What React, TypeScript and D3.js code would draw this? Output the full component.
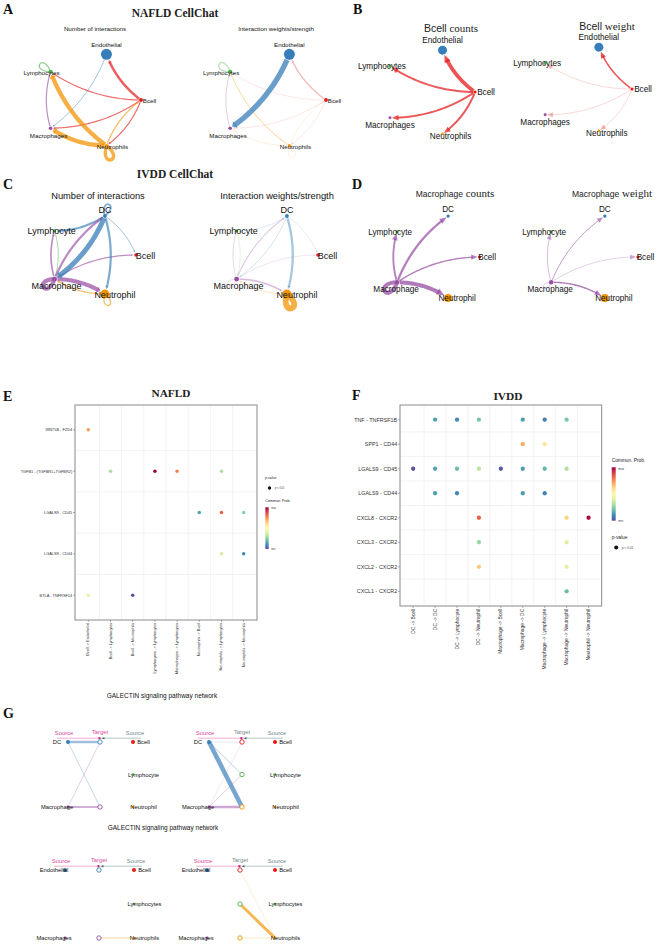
import { useEffect } from "react";
import * as d3 from "d3";

const WIDTH = 660;
const HEIGHT = 945;
const SANS = "'Liberation Sans', Arial, Helvetica, sans-serif";
const SERIF = "'Liberation Serif', 'Times New Roman', serif";

type Edge = [string, string, number];
type Dot = [string, string, number];
type Nudge = Record<string, [number, number]>;

// ---- cell groups -------------------------------------------------------
const NAFLD_CELLS = ["Bcell", "Endothelial", "Lymphocytes", "Macrophages", "Neutrophils"];
const IVDD_CELLS = ["Bcell", "DC", "Lymphocyte", "Macrophage", "Neutrophil"];
const CELL_COLORS = ["#E41A1C", "#377EB8", "#4DAF4A", "#984EA3", "#F29403"];

// relative group sizes (vertex weights)
const NAFLD_SIZES = [1.2, 10, 1.4, 1.1, 0.8];
const IVDD_SIZES = [0.8, 0.9, 0.7, 1.5, 5];

// ---- aggregated networks: [source, target, value] ----------------------
const NAFLD_COUNT: Edge[] = [
  ["Bcell", "Endothelial", 5],
  ["Bcell", "Lymphocytes", 2],
  ["Bcell", "Macrophages", 2],
  ["Bcell", "Neutrophils", 2],
  ["Endothelial", "Macrophages", 1],
  ["Lymphocytes", "Lymphocytes", 2],
  ["Macrophages", "Lymphocytes", 2],
  ["Neutrophils", "Lymphocytes", 9],
  ["Neutrophils", "Macrophages", 9],
  ["Neutrophils", "Neutrophils", 7],
  ["Neutrophils", "Bcell", 2],
];

const NAFLD_WEIGHT: Edge[] = [
  ["Endothelial", "Macrophages", 0.9],
  ["Bcell", "Endothelial", 0.15],
  ["Lymphocytes", "Lymphocytes", 0.18],
  ["Macrophages", "Lymphocytes", 0.1],
  ["Neutrophils", "Lymphocytes", 0.12],
  ["Neutrophils", "Bcell", 0.02],
  ["Neutrophils", "Macrophages", 0.03],
  ["Neutrophils", "Neutrophils", 0.02],
  ["Bcell", "Lymphocytes", 0.015],
  ["Bcell", "Macrophages", 0.015],
  ["Bcell", "Neutrophils", 0.015],
];

const IVDD_COUNT: Edge[] = [
  ["DC", "DC", 3],
  ["DC", "Lymphocyte", 4],
  ["DC", "Macrophage", 10],
  ["DC", "Neutrophil", 4],
  ["DC", "Bcell", 1],
  ["Macrophage", "DC", 4],
  ["Macrophage", "Lymphocyte", 3],
  ["Macrophage", "Bcell", 2],
  ["Macrophage", "Macrophage", 8],
  ["Macrophage", "Neutrophil", 8],
  ["Lymphocyte", "Macrophage", 1],
  ["Neutrophil", "Macrophage", 2],
  ["Neutrophil", "Neutrophil", 2],
];

const IVDD_WEIGHT: Edge[] = [
  ["DC", "Neutrophil", 0.35],
  ["Neutrophil", "Neutrophil", 1.0],
  ["Macrophage", "DC", 0.12],
  ["Macrophage", "Neutrophil", 0.22],
  ["Macrophage", "Lymphocyte", 0.07],
  ["Macrophage", "Bcell", 0.03],
  ["Macrophage", "Macrophage", 0.05],
  ["DC", "Lymphocyte", 0.04],
  ["DC", "Bcell", 0.03],
  ["DC", "Macrophage", 0.06],
  ["Lymphocyte", "Macrophage", 0.04],
  ["Neutrophil", "Macrophage", 0.08],
];

// ---- bubble plots ------------------------------------------------------
const E_PAIRS = ["WNT5B - FZD4", "TGFB1 - (TGFBR1+TGFBR2)", "LGALS9 - CD45", "LGALS9 - CD44", "BTLA - TNFRSF14"];
const E_LINKS = [
  "Bcell -> Endothelial",
  "Bcell -> Lymphocytes",
  "Bcell -> Neutrophils",
  "Lymphocytes -> Lymphocytes",
  "Macrophages -> Lymphocytes",
  "Neutrophils -> Bcell",
  "Neutrophils -> Lymphocytes",
  "Neutrophils -> Neutrophils",
];
const E_PROB: Dot[] = [
  ["WNT5B - FZD4", "Bcell -> Endothelial", 0.73],
  ["TGFB1 - (TGFBR1+TGFBR2)", "Bcell -> Lymphocytes", 0.3],
  ["TGFB1 - (TGFBR1+TGFBR2)", "Lymphocytes -> Lymphocytes", 1.0],
  ["TGFB1 - (TGFBR1+TGFBR2)", "Macrophages -> Lymphocytes", 0.77],
  ["TGFB1 - (TGFBR1+TGFBR2)", "Neutrophils -> Lymphocytes", 0.31],
  ["LGALS9 - CD45", "Neutrophils -> Bcell", 0.15],
  ["LGALS9 - CD45", "Neutrophils -> Lymphocytes", 0.83],
  ["LGALS9 - CD45", "Neutrophils -> Neutrophils", 0.25],
  ["LGALS9 - CD44", "Neutrophils -> Lymphocytes", 0.38],
  ["LGALS9 - CD44", "Neutrophils -> Neutrophils", 0.1],
  ["BTLA - TNFRSF14", "Bcell -> Endothelial", 0.41],
  ["BTLA - TNFRSF14", "Bcell -> Neutrophils", 0.0],
];

const F_PAIRS = [
  "TNF - TNFRSF1B",
  "SPP1 - CD44",
  "LGALS9 - CD45",
  "LGALS9 - CD44",
  "CXCL8 - CXCR2",
  "CXCL3 - CXCR2",
  "CXCL2 - CXCR2",
  "CXCL1 - CXCR2",
];
const F_LINKS = [
  "DC -> Bcell",
  "DC -> DC",
  "DC -> Lymphocyte",
  "DC -> Neutrophil",
  "Macrophage -> Bcell",
  "Macrophage -> DC",
  "Macrophage -> Lymphocyte",
  "Macrophage -> Neutrophil",
  "Neutrophil -> Neutrophil",
];
const F_PROB: Dot[] = [
  ["TNF - TNFRSF1B", "DC -> DC", 0.15],
  ["TNF - TNFRSF1B", "DC -> Lymphocyte", 0.1],
  ["TNF - TNFRSF1B", "DC -> Neutrophil", 0.22],
  ["TNF - TNFRSF1B", "Macrophage -> DC", 0.14],
  ["TNF - TNFRSF1B", "Macrophage -> Lymphocyte", 0.08],
  ["TNF - TNFRSF1B", "Macrophage -> Neutrophil", 0.23],
  ["SPP1 - CD44", "Macrophage -> DC", 0.7],
  ["SPP1 - CD44", "Macrophage -> Lymphocyte", 0.58],
  ["LGALS9 - CD45", "DC -> Bcell", 0.0],
  ["LGALS9 - CD45", "DC -> DC", 0.15],
  ["LGALS9 - CD45", "DC -> Lymphocyte", 0.2],
  ["LGALS9 - CD45", "DC -> Neutrophil", 0.33],
  ["LGALS9 - CD45", "Macrophage -> Bcell", 0.02],
  ["LGALS9 - CD45", "Macrophage -> DC", 0.14],
  ["LGALS9 - CD45", "Macrophage -> Lymphocyte", 0.19],
  ["LGALS9 - CD45", "Macrophage -> Neutrophil", 0.31],
  ["LGALS9 - CD44", "DC -> DC", 0.15],
  ["LGALS9 - CD44", "DC -> Lymphocyte", 0.1],
  ["LGALS9 - CD44", "Macrophage -> DC", 0.14],
  ["LGALS9 - CD44", "Macrophage -> Lymphocyte", 0.09],
  ["CXCL8 - CXCR2", "DC -> Neutrophil", 0.83],
  ["CXCL8 - CXCR2", "Macrophage -> Neutrophil", 0.62],
  ["CXCL8 - CXCR2", "Neutrophil -> Neutrophil", 0.98],
  ["CXCL3 - CXCR2", "DC -> Neutrophil", 0.28],
  ["CXCL3 - CXCR2", "Macrophage -> Neutrophil", 0.39],
  ["CXCL2 - CXCR2", "DC -> Neutrophil", 0.65],
  ["CXCL2 - CXCR2", "Macrophage -> Neutrophil", 0.4],
  ["CXCL1 - CXCR2", "Macrophage -> Neutrophil", 0.2],
];

// ---- GALECTIN hierarchy ------------------------------------------------
const IVDD_HIER_SOURCES = ["DC", "Macrophage"];
const IVDD_HIER_OTHERS = ["Bcell", "Lymphocyte", "Neutrophil"];
const IVDD_GALECTIN: Edge[] = [
  ["DC", "DC", 0.5],
  ["DC", "Macrophage", 0.12],
  ["Macrophage", "DC", 0.1],
  ["Macrophage", "Macrophage", 0.4],
  ["DC", "Bcell", 0.04],
  ["DC", "Lymphocyte", 0.15],
  ["DC", "Neutrophil", 1.0],
  ["Macrophage", "Bcell", 0.02],
  ["Macrophage", "Lymphocyte", 0.12],
  ["Macrophage", "Neutrophil", 0.5],
];

const NAFLD_HIER_SOURCES = ["Endothelial", "Macrophages"];
const NAFLD_HIER_OTHERS = ["Bcell", "Lymphocytes", "Neutrophils"];
const NAFLD_GALECTIN: Edge[] = [
  ["Neutrophils", "Macrophages", 0.2],
  ["Neutrophils", "Bcell", 0.03],
  ["Neutrophils", "Lymphocytes", 0.7],
  ["Neutrophils", "Neutrophils", 0.08],
];

// ---------------------------------------------------------------------------

interface ArrowCfg {
  base: number;
  k: number;
  gap: number;
}

interface CircleProps {
  cx: number;
  cy: number;
  rx: number;
  ry: number;
  cells: string[];
  sizes: number[];
  edges: Edge[];
  focus?: string;
  rMax: number;
  wMin: number;
  wMax: number;
  oMin: number;
  arrow: ArrowCfg;
  loop: number;
  font: number;
  nudge: Nudge;
}

const line = d3.line();
const BEND = 0.15;

function CirclePlot(p: CircleProps) {
  const n = p.cells.length;
  const nodes = p.cells.map((name, i) => {
    const a = (-i * 2 * Math.PI) / n;
    return { name, i, a, x: p.cx + p.rx * Math.cos(a), y: p.cy + p.ry * Math.sin(a) };
  });
  const byName = new Map(nodes.map((d) => [d.name, d]));
  const rScale = d3.scaleSqrt().domain([0, d3.max(p.sizes)!]).range([0, p.rMax]);
  const shown = p.focus ? p.edges.filter((e) => e[0] === p.focus) : p.edges;
  const vmax = d3.max(shown, (e) => e[2])!;
  const wScale = d3.scaleLinear().domain([0, vmax]).range([p.wMin, p.wMin + p.wMax]);
  const oScale = d3.scaleLinear().domain([0, vmax]).range([p.oMin, 0.75]);
  const sorted = [...shown].sort((a, b) => a[2] - b[2]);

  const marks = sorted.map((e, k) => {
    const s = byName.get(e[0])!;
    const t = byName.get(e[1])!;
    const color = CELL_COLORS[s.i];
    const w = wScale(e[2]);
    const op = oScale(e[2]);
    if (s === t) {
      // self-loop pointing away from the circle centre
      const L = p.loop * (1 + w * 0.06);
      const sp = 0.6;
      const d = `M${s.x},${s.y} C${s.x + L * Math.cos(s.a + sp)},${s.y + L * Math.sin(s.a + sp)} ${
        s.x + L * Math.cos(s.a - sp)
      },${s.y + L * Math.sin(s.a - sp)} ${s.x},${s.y}`;
      return <path key={k} d={d} fill="none" stroke={color} strokeOpacity={op} strokeWidth={w} />;
    }
    const rs = rScale(p.sizes[s.i]);
    const rt = rScale(p.sizes[t.i]);
    const x0 = s.x, y0 = s.y, x2 = t.x, y2 = t.y;
    const dx = x2 - x0, dy = y2 - y0;
    const len = Math.hypot(dx, dy);
    const x1 = (x0 + x2) / 2 + BEND * dy;
    const y1 = (y0 + y2) / 2 - BEND * dx;
    const B = (u: number): [number, number] => [
      (1 - u) * (1 - u) * x0 + 2 * u * (1 - u) * x1 + u * u * x2,
      (1 - u) * (1 - u) * y0 + 2 * u * (1 - u) * y1 + u * u * y2,
    ];
    const Dv = (u: number) => [2 * (1 - u) * (x1 - x0) + 2 * u * (x2 - x1), 2 * (1 - u) * (y1 - y0) + 2 * u * (y2 - y1)];
    const aLen = p.arrow.base + p.arrow.k * w;
    const uStart = (rs + 0.3) / len;
    const uTip = 1 - (rt + p.arrow.gap) / len;
    const uEnd = uTip - (aLen * 0.7) / len;
    const pts = d3.range(25).map((i) => B(uStart + ((uEnd - uStart) * i) / 24));
    const tip = B(uTip);
    const dv = Dv(uTip);
    const dl = Math.hypot(dv[0], dv[1]);
    const tx = dv[0] / dl, ty = dv[1] / dl;
    const bx = tip[0] - tx * aLen, by = tip[1] - ty * aLen;
    const hw = Math.max(aLen * 0.42, w * 0.75);
    const head: [number, number][] = [tip, [bx - ty * hw, by + tx * hw], [bx + ty * hw, by - tx * hw]];
    return (
      <g key={k}>
        <path d={line(pts)!} fill="none" stroke={color} strokeOpacity={op} strokeWidth={w} />
        <path d={line(head)! + "Z"} fill={color} fillOpacity={op} />
      </g>
    );
  });

  return (
    <g>
      {marks}
      {nodes.map((d) => (
        <circle key={d.name} cx={d.x} cy={d.y} r={rScale(p.sizes[d.i])} fill={CELL_COLORS[d.i]} />
      ))}
      {nodes.map((d) => {
        const [ox, oy] = p.nudge[d.name] || [0, 0];
        return (
          <text
            key={"l" + d.name}
            x={d.x + ox}
            y={d.y + oy}
            fontSize={p.font}
            fontFamily={SANS}
            textAnchor="middle"
            dominantBaseline="central"
            fill="#111"
          >
            {d.name}
          </text>
        );
      })}
    </g>
  );
}

interface DotProps {
  x0: number;
  y0: number;
  x1: number;
  y1: number;
  rows: string[];
  cols: string[];
  dots: Dot[];
  r: number;
  yFont: number;
  xFont: number;
}

const probColor = (p: number) => d3.interpolateSpectral(1 - p);

function DotPlot(p: DotProps) {
  const x = d3.scalePoint().domain(p.cols).range([p.x0, p.x1]).padding(0.6);
  const y = d3.scalePoint().domain(p.rows).range([p.y0, p.y1]).padding(0.6);
  const vx = p.cols.slice(1).map((c, i) => (x(c)! + x(p.cols[i])!) / 2);
  const hy = p.rows.slice(1).map((c, i) => (y(c)! + y(p.rows[i])!) / 2);
  return (
    <g>
      {vx.map((v, i) => (
        <line key={"v" + i} x1={v} x2={v} y1={p.y0} y2={p.y1} stroke="#e6e6e6" strokeWidth={0.5} />
      ))}
      {hy.map((v, i) => (
        <line key={"h" + i} x1={p.x0} x2={p.x1} y1={v} y2={v} stroke="#e6e6e6" strokeWidth={0.5} />
      ))}
      {p.dots.map((d, i) => (
        <circle key={"d" + i} cx={x(d[1])} cy={y(d[0])} r={p.r} fill={probColor(d[2])} />
      ))}
      <rect x={p.x0} y={p.y0} width={p.x1 - p.x0} height={p.y1 - p.y0} fill="none" stroke="#8a8a8a" strokeWidth={1} />
      {p.rows.map((r) => (
        <g key={r}>
          <line x1={p.x0 - 2} x2={p.x0} y1={y(r)} y2={y(r)} stroke="#444" strokeWidth={0.4} />
          <text
            x={p.x0 - 2.8}
            y={y(r)}
            fontSize={p.yFont}
            fontFamily={SANS}
            textAnchor="end"
            dominantBaseline="central"
            fill="#333"
          >
            {r}
          </text>
        </g>
      ))}
      {p.cols.map((c) => (
        <g key={c}>
          <line x1={x(c)} x2={x(c)} y1={p.y1} y2={p.y1 + 2} stroke="#444" strokeWidth={0.4} />
          <text
            transform={`translate(${x(c)},${p.y1 + 2.8}) rotate(-90)`}
            fontSize={p.xFont}
            fontFamily={SANS}
            textAnchor="end"
            dominantBaseline="central"
            fill="#333"
          >
            {c}
          </text>
        </g>
      ))}
    </g>
  );
}

function ColorBar({ id, x, y, w, h, title, font, tick }: { id: string; x: number; y: number; w: number; h: number; title: string; font: number; tick: number }) {
  const stops = d3.range(11).map((i) => i / 10);
  return (
    <g>
      <defs>
        <linearGradient id={id} x1="0" y1="0" x2="0" y2="1">
          {stops.map((s) => (
            <stop key={s} offset={s} stopColor={d3.interpolateSpectral(s)} />
          ))}
        </linearGradient>
      </defs>
      <text x={x} y={y - 5} fontSize={font} fontFamily={SANS} fill="#222">
        {title}
      </text>
      <rect x={x} y={y} width={w} height={h} fill={`url(#${id})`} />
      <text x={x + w + 2.5} y={y + 1.5} fontSize={tick} fontFamily={SANS} fill="#444" dominantBaseline="central">
        max
      </text>
      <text x={x + w + 2.5} y={y + h} fontSize={tick} fontFamily={SANS} fill="#444" dominantBaseline="central">
        min
      </text>
    </g>
  );
}

function PLegend({ x, y, font, tick, r }: { x: number; y: number; font: number; tick: number; r: number }) {
  return (
    <g>
      <text x={x} y={y} fontSize={font} fontFamily={SANS} fill="#222">
        p-value
      </text>
      <circle cx={x + 4.5} cy={y + 9} r={r} fill="#111" />
      <text x={x + 10} y={y + 9} fontSize={tick} fontFamily={SANS} fill="#444" dominantBaseline="central">
        p {"<"} 0.01
      </text>
    </g>
  );
}

interface HierProps {
  xs: [number, number, number];
  ys: [number, number];
  cells: string[];
  sources: string[];
  others: string[];
  targets: string[];
  edges: Edge[];
  wMax: number;
  midPink: boolean;
}

function Hierarchy(p: HierProps) {
  const [xl, xm, xr] = p.xs;
  const col = (name: string) => CELL_COLORS[p.cells.indexOf(name)];
  const yL = d3.scalePoint().domain(p.sources).range(p.ys);
  const yM = d3.scalePoint().domain(p.targets).range(p.ys);
  const yR = d3.scalePoint().domain(p.others).range(p.ys);
  const vmax = d3.max(p.edges, (e) => e[2])!;
  const wScale = d3.scaleLinear().domain([0, vmax]).range([0.35, 0.35 + p.wMax]);
  const oScale = d3.scaleLinear().domain([0, vmax]).range([0.3, 0.68]);
  const shown = p.edges.filter((e) => p.targets.includes(e[1]));
  const font = 5.8;
  const pink = "#D9489A";
  const grey = "#6F8A8A";
  const hy = p.ys[0] - 3.8;
  return (
    <g fontFamily={SANS}>
      <line x1={xl - 11} x2={xm} y1={hy} y2={hy} stroke="#EE9CC6" strokeWidth={0.8} />
      <line x1={xm} x2={xr + 8} y1={hy} y2={hy} stroke="#A7B3B3" strokeWidth={0.8} />
      <rect x={xm - 1.6} y={hy - 1} width={2} height={2} fill="#C2187A" />
      <path d={`M${xm + 2},${hy} l2.4,-1.3 v2.6 Z`} fill="#2F5F5F" />
      <text x={xl - 4} y={hy - 3} fontSize={font} textAnchor="middle" fill={pink}>
        Source
      </text>
      <text x={xm} y={hy - 4} fontSize={font} textAnchor="middle" fill={p.midPink ? pink : grey}>
        Target
      </text>
      <text x={xr + 2} y={hy - 3} fontSize={font} textAnchor="middle" fill={grey}>
        Source
      </text>
      {[...shown]
        .sort((a, b) => a[2] - b[2])
        .map((e, i) => {
          const fromLeft = p.sources.includes(e[0]);
          const sx = fromLeft ? xl : xr;
          const sy = fromLeft ? yL(e[0])! : yR(e[0])!;
          return (
            <line
              key={i}
              x1={sx}
              y1={sy}
              x2={xm}
              y2={yM(e[1])}
              stroke={col(e[0])}
              strokeOpacity={oScale(e[2])}
              strokeWidth={wScale(e[2])}
            />
          );
        })}
      {p.sources.map((s, i) => (
        <g key={"s" + s}>
          <circle cx={xl} cy={yL(s)} r={i === 0 ? 2 : 1.4} fill={col(s)} />
          <text x={xl - 11} y={yL(s)} fontSize={font} textAnchor="middle" dominantBaseline="central" fill="#111">
            {s}
          </text>
        </g>
      ))}
      {p.targets.map((t) => (
        <circle key={"t" + t} cx={xm} cy={yM(t)} r={2.2} fill="#fff" stroke={col(t)} strokeWidth={0.9} />
      ))}
      {p.others.map((s, i) => (
        <g key={"o" + s}>
          <circle cx={xr} cy={yR(s)} r={i === 0 ? 2 : 1.3} fill={col(s)} />
          <text x={xr + 10.5} y={yR(s)} fontSize={font} textAnchor="middle" dominantBaseline="central" fill="#111">
            {s}
          </text>
        </g>
      ))}
    </g>
  );
}

// label offsets for each layout, px from the node centre
const NUDGE_A: Nudge = {
  Bcell: [8.5, 0.5],
  Endothelial: [0, -10],
  Lymphocytes: [-9, 0.5],
  Macrophages: [-2, 7.5],
  Neutrophils: [6, 1],
};
const NUDGE_B: Nudge = {
  Bcell: [11, 0.5],
  Endothelial: [0, -9.5],
  Lymphocytes: [-8, 0.5],
  Macrophages: [0, 7.5],
  Neutrophils: [8, 3],
};
const NUDGE_C: Nudge = {
  Bcell: [9.5, 0.5],
  DC: [0, -6],
  Lymphocyte: [-3, 0.5],
  Macrophage: [2, 7],
  Neutrophil: [10, 1],
};
const NUDGE_D: Nudge = {
  Bcell: [7.5, 0.5],
  DC: [0, -7],
  Lymphocyte: [-7, 0.5],
  Macrophage: [-1, 7.5],
  Neutrophil: [9, 1],
};

const SMALL_ARROW: ArrowCfg = { base: 2, k: 0.4, gap: 0.5 };
const BIG_ARROW: ArrowCfg = { base: 5.5, k: 0.6, gap: 0.3 };

function PanelLetter({ x, y, children }: { x: number; y: number; children: string }) {
  return (
    <text x={x} y={y} fontSize={14} fontWeight="bold" fontFamily={SERIF} fill="#111">
      {children}
    </text>
  );
}

function MixedTitle({ x, y, who, what, sans, serif }: { x: number; y: number; who: string; what: string; sans: number; serif: number }) {
  return (
    <text x={x} y={y} textAnchor="middle" fill="#222">
      <tspan fontFamily={SANS} fontSize={sans}>
        {who}
      </tspan>
      <tspan fontFamily={SERIF} fontSize={serif}>
        {" " + what}
      </tspan>
    </text>
  );
}

export default function App() {
  useEffect(() => {
    document.body.style.margin = "0";
  }, []);

  return (
    <svg width={WIDTH} height={HEIGHT} viewBox={`0 0 ${WIDTH} ${HEIGHT}`} style={{ display: "block", background: "#fff" }}>
      <rect width={WIDTH} height={HEIGHT} fill="#fff" />

      {/* A: NAFLD aggregated network */}
      <PanelLetter x={3} y={14}>A</PanelLetter>
      <text x={175} y={16.5} textAnchor="middle" fontSize={11.5} fontWeight="bold" fontFamily={SERIF} fill="#222">
        NAFLD CellChat
      </text>
      <text x={95} y={30.5} textAnchor="middle" fontSize={6.2} fontFamily={SANS} fill="#111">
        Number of interactions
      </text>
      <text x={276} y={30.5} textAnchor="middle" fontSize={6.2} fontFamily={SANS} fill="#111">
        Interaction weights/strength
      </text>
      <CirclePlot
        cx={91} cy={100} rx={50} ry={48}
        cells={NAFLD_CELLS} sizes={NAFLD_SIZES} edges={NAFLD_COUNT}
        rMax={5.5} wMin={0.3} wMax={4} oMin={0.62}
        arrow={SMALL_ARROW} loop={20} font={6.2} nudge={NUDGE_A}
      />
      <CirclePlot
        cx={273} cy={100} rx={53} ry={48}
        cells={NAFLD_CELLS} sizes={NAFLD_SIZES} edges={NAFLD_WEIGHT}
        rMax={5.5} wMin={0.35} wMax={5} oMin={0.25}
        arrow={SMALL_ARROW} loop={20} font={6.2} nudge={NUDGE_A}
      />

      {/* B: Bcell outgoing */}
      <PanelLetter x={353} y={14}>B</PanelLetter>
      <MixedTitle x={451} y={32} who="Bcell" what="counts" sans={10.5} serif={11} />
      <MixedTitle x={607} y={30} who="Bcell" what="weight" sans={10.5} serif={11} />
      <CirclePlot
        cx={428} cy={92} rx={47} ry={44}
        cells={NAFLD_CELLS} sizes={NAFLD_SIZES} edges={NAFLD_COUNT} focus="Bcell"
        rMax={4.5} wMin={0.8} wMax={3} oMin={0.7}
        arrow={BIG_ARROW} loop={20} font={8.2} nudge={NUDGE_B}
      />
      <CirclePlot
        cx={584} cy={89} rx={48} ry={44}
        cells={NAFLD_CELLS} sizes={NAFLD_SIZES} edges={NAFLD_WEIGHT} focus="Bcell"
        rMax={4.5} wMin={0.4} wMax={1.1} oMin={0.3}
        arrow={BIG_ARROW} loop={20} font={8.2} nudge={NUDGE_B}
      />

      {/* C: IVDD aggregated network */}
      <PanelLetter x={3} y={189}>C</PanelLetter>
      <text x={175} y={177.5} textAnchor="middle" fontSize={11.5} fontWeight="bold" fontFamily={SERIF} fill="#222">
        IVDD CellChat
      </text>
      <text x={98} y={199} textAnchor="middle" fontSize={9.3} fontFamily={SANS} fill="#111">
        Number of interactions
      </text>
      <text x={277} y={199} textAnchor="middle" fontSize={9.3} fontFamily={SANS} fill="#111">
        Interaction weights/strength
      </text>
      <CirclePlot
        cx={91} cy={255} rx={45} ry={41}
        cells={IVDD_CELLS} sizes={IVDD_SIZES} edges={IVDD_COUNT}
        rMax={4.5} wMin={0.3} wMax={4.7} oMin={0.6}
        arrow={SMALL_ARROW} loop={18} font={9} nudge={NUDGE_C}
      />
      <CirclePlot
        cx={273} cy={255} rx={45} ry={41}
        cells={IVDD_CELLS} sizes={IVDD_SIZES} edges={IVDD_WEIGHT}
        rMax={4.5} wMin={0.35} wMax={5.5} oMin={0.28}
        arrow={SMALL_ARROW} loop={18} font={9} nudge={NUDGE_C}
      />

      {/* D: Macrophage outgoing */}
      <PanelLetter x={352} y={189}>D</PanelLetter>
      <MixedTitle x={455} y={197} who="Macrophage" what="counts" sans={8.5} serif={11} />
      <MixedTitle x={612} y={197} who="Macrophage" what="weight" sans={8.5} serif={11} />
      <CirclePlot
        cx={434} cy={257} rx={45.6} ry={43}
        cells={IVDD_CELLS} sizes={IVDD_SIZES} edges={IVDD_COUNT} focus="Macrophage"
        rMax={4} wMin={0.6} wMax={3.4} oMin={0.7}
        arrow={BIG_ARROW} loop={20} font={8.2} nudge={NUDGE_D}
      />
      <CirclePlot
        cx={590} cy={257} rx={48} ry={43}
        cells={IVDD_CELLS} sizes={IVDD_SIZES} edges={IVDD_WEIGHT} focus="Macrophage"
        rMax={4} wMin={0.4} wMax={1} oMin={0.45}
        arrow={BIG_ARROW} loop={14} font={8.2} nudge={NUDGE_D}
      />

      {/* E: NAFLD bubble plot */}
      <PanelLetter x={3} y={400.5}>E</PanelLetter>
      <text x={171} y={397} textAnchor="middle" fontSize={11.3} fontWeight="bold" fontFamily={SERIF} fill="#222">
        NAFLD
      </text>
      <DotPlot x0={75} y0={405} x1={257} y1={620} rows={E_PAIRS} cols={E_LINKS} dots={E_PROB} r={1.75} yFont={3.9} xFont={3.85} />
      <PLegend x={265} y={479} font={3.5} tick={2.6} r={1.7} />
      <ColorBar id="cbE" x={265.3} y={507.3} w={3.4} h={41.7} title="Commun. Prob." font={3.6} tick={2.6} />

      {/* F: IVDD bubble plot */}
      <PanelLetter x={352} y={400}>F</PanelLetter>
      <text x={508} y={400} textAnchor="middle" fontSize={11.4} fontWeight="bold" fontFamily={SERIF} fill="#222">
        IVDD
      </text>
      <DotPlot x0={400} y0={405} x1={601.7} y1={606} rows={F_PAIRS} cols={F_LINKS} dots={F_PROB} r={2.15} yFont={5.4} xFont={4.9} />
      <ColorBar id="cbF" x={611.7} y={467.3} w={4} h={53.4} title="Commun. Prob." font={4.8} tick={3.2} />
      <PLegend x={611.7} y={538.5} font={4.8} tick={3.2} r={2} />

      {/* G: GALECTIN hierarchy plots */}
      <text x={162} y={698} textAnchor="middle" fontSize={6.5} fontFamily={SANS} fill="#111">
        GALECTIN signaling pathway network
      </text>
      <PanelLetter x={3} y={718}>G</PanelLetter>
      <Hierarchy
        xs={[68, 100, 133]} ys={[742, 807]} cells={IVDD_CELLS}
        sources={IVDD_HIER_SOURCES} others={IVDD_HIER_OTHERS} targets={IVDD_HIER_SOURCES}
        edges={IVDD_GALECTIN} wMax={4.2} midPink={true}
      />
      <Hierarchy
        xs={[209, 242, 275]} ys={[742, 807]} cells={IVDD_CELLS}
        sources={IVDD_HIER_SOURCES} others={IVDD_HIER_OTHERS} targets={IVDD_HIER_OTHERS}
        edges={IVDD_GALECTIN} wMax={4.2} midPink={false}
      />
      <text x={163} y={829.5} textAnchor="middle" fontSize={6.5} fontFamily={SANS} fill="#111">
        GALECTIN signaling pathway network
      </text>
      <Hierarchy
        xs={[65, 99, 134]} ys={[870, 938]} cells={NAFLD_CELLS}
        sources={NAFLD_HIER_SOURCES} others={NAFLD_HIER_OTHERS} targets={NAFLD_HIER_SOURCES}
        edges={NAFLD_GALECTIN} wMax={2.6} midPink={true}
      />
      <Hierarchy
        xs={[207, 240, 275]} ys={[870, 938]} cells={NAFLD_CELLS}
        sources={NAFLD_HIER_SOURCES} others={NAFLD_HIER_OTHERS} targets={NAFLD_HIER_OTHERS}
        edges={NAFLD_GALECTIN} wMax={2.6} midPink={false}
      />
    </svg>
  );
}
